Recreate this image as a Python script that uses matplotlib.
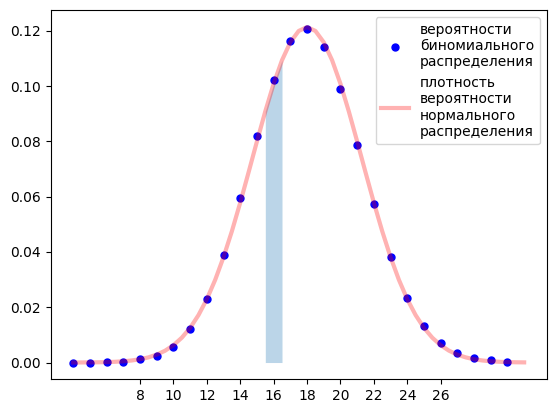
import numpy as np
import matplotlib
matplotlib.use('Agg')
import matplotlib.pyplot as plt

# binomial probabilities
k_values = list(range(4, 31))
binom_probs = [0.0000, 0.0000, 0.0001, 0.0003, 0.0011, 0.0025, 0.0056, 0.0123,
               0.0231, 0.0388, 0.0595, 0.0819, 0.1023, 0.1163, 0.1207, 0.1143,
               0.0991, 0.0786, 0.0573, 0.0382, 0.0234, 0.0134, 0.0070, 0.0034,
               0.0015, 0.0008, 0.0003]

# normal density curve, sampled every 0.5
curve_x = np.arange(4, 31.5, 0.5)
curve_y = [0.00001, 0.00003, 0.00005, 0.00009, 0.00015, 0.00027, 0.00045, 0.00074,
           0.00119, 0.00186, 0.00286, 0.00428, 0.00627, 0.00898, 0.01255, 0.01717,
           0.02293, 0.02993, 0.03816, 0.04754, 0.05788, 0.06886, 0.08003, 0.09090,
           0.10090, 0.10940, 0.11590, 0.12000, 0.12140,
           0.12000, 0.11590, 0.10940, 0.10090, 0.09090, 0.08003, 0.06886, 0.05788,
           0.04754, 0.03816, 0.02993, 0.02293, 0.01717, 0.01255, 0.00898, 0.00627,
           0.00428, 0.00286, 0.00186, 0.00119, 0.00074, 0.00045, 0.00027, 0.00015,
           0.00009, 0.00005]

shade_from, shade_to = 15.5, 16.5
xticks = [8, 10, 12, 14, 16, 18, 20, 22, 24, 26]

fig = plt.figure(figsize=(5.56, 4.13), dpi=100)
ax = fig.add_axes([50.7 / 556, 33.7 / 413, 496 / 556, 369 / 413])

ax.plot(k_values, binom_probs, 'bo', ms=5,
        label='вероятности\nбиномиального\nраспределения')
ax.plot(curve_x, curve_y, 'r-', lw=3, alpha=0.3,
        label='плотность\nвероятности\nнормального\nраспределения')

mask = (curve_x >= shade_from) & (curve_x <= shade_to)
ax.fill_between(curve_x, curve_y, where=mask, alpha=0.3, color='tab:blue', lw=0)

ax.set_xticks(xticks)
ax.legend(loc='upper right')

plt.savefig('out.png', dpi=100)
